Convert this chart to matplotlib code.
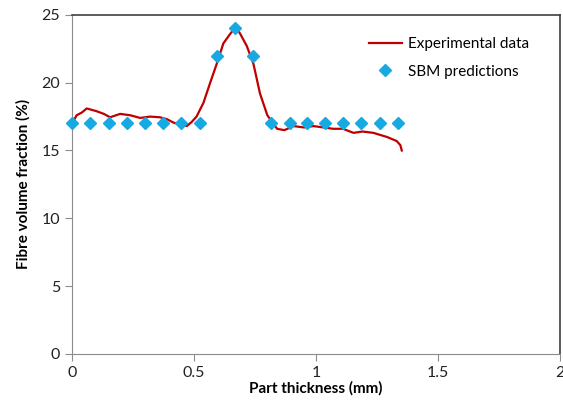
import numpy as np
import matplotlib.pyplot as plt

plt.rcParams['font.family'] = ['Lato', 'DejaVu Sans']

# experimental fibre volume fraction profile
exp_x = [0.0, 0.019, 0.040, 0.060, 0.080, 0.10, 0.13, 0.156, 0.197, 0.238, 0.279,
         0.32, 0.36, 0.39, 0.415, 0.445, 0.47, 0.49, 0.51, 0.538, 0.566, 0.593,
         0.62, 0.648, 0.661, 0.675, 0.689, 0.716, 0.743, 0.77, 0.80, 0.84,
         0.87, 0.907, 0.95, 0.989, 1.03, 1.07, 1.11, 1.153, 1.19, 1.235, 1.262,
         1.29, 1.303, 1.33, 1.345, 1.351]
exp_y = [17.0, 17.6, 17.8, 18.1, 18.0, 17.9, 17.7, 17.45, 17.7, 17.6, 17.4,
         17.5, 17.45, 17.3, 17.06, 16.9, 16.8, 17.1, 17.5, 18.5, 20.0, 21.4,
         22.9, 23.6, 23.9, 24.0, 23.6, 22.7, 21.4, 19.2, 17.6, 16.6,
         16.5, 16.8, 16.7, 16.8, 16.7, 16.6, 16.6, 16.3, 16.4, 16.3, 16.15,
         16.0, 15.9, 15.7, 15.4, 15.0]

# SBM predictions
sbm_x = [0.0, 0.074, 0.152, 0.225, 0.299, 0.373, 0.447, 0.525, 0.594, 0.668,
         0.742, 0.816, 0.893, 0.963, 1.037, 1.111, 1.184, 1.262, 1.336]
sbm_y = [17, 17, 17, 17, 17, 17, 17, 17, 22, 24,
         22, 17, 17, 17, 17, 17, 17, 17, 17]

fig = plt.figure(figsize=(5.63, 4.13), dpi=100)
ax = fig.add_axes([0.128, 0.143, 0.867, 0.821])

ax.plot(exp_x, exp_y, color='#C00000', lw=1.6, label='Experimental data', zorder=2)
ax.plot(sbm_x, sbm_y, ls='none', marker='D', ms=6.5, color='#17A9E1',
        label='SBM predictions', zorder=3, clip_on=False)

ax.set_xlim(0, 2)
ax.set_ylim(0, 25)
ax.set_xticks([0, 0.5, 1, 1.5, 2])
ax.set_xticklabels(['0', '0.5', '1', '1.5', '2'])
ax.set_yticks(np.arange(0, 26, 5))

for s in ['left', 'bottom']:
    ax.spines[s].set_color('#8c8c8c')
for s in ['top', 'right']:
    ax.spines[s].set_color('#404040')
    ax.spines[s].set_linewidth(1.2)
ax.tick_params(direction='out', length=5, color='#8c8c8c', labelsize=11.5,
               labelcolor='#222222')

ax.set_xlabel('Part thickness (mm)', fontsize=11, fontweight='bold', labelpad=1)
ax.set_ylabel('Fibre volume fraction (%)', fontsize=11, fontweight='bold', labelpad=8)

ax.legend(loc='upper right', frameon=False, fontsize=11, bbox_to_anchor=(0.965, 0.975),
          handlelength=2.2, handletextpad=0.4, labelspacing=0.9)

fig.savefig('out.png', dpi=100)
